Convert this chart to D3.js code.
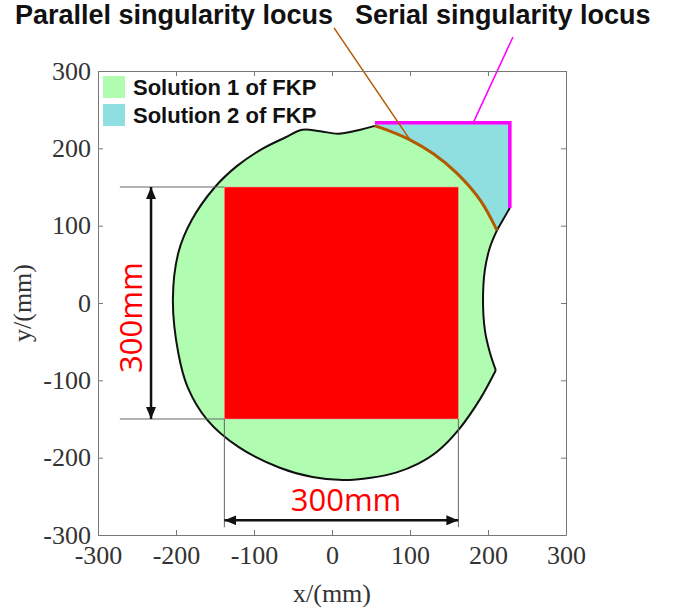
<!DOCTYPE html>
<html><head><meta charset="utf-8">
<script src="https://cdn.jsdelivr.net/npm/d3@7"></script>
<style>body{margin:0;background:#fff}</style>
</head><body>
<svg id="chart" width="676" height="609"></svg>
<script>
// ---- data ----
const xTicks = [-300,-200,-100,0,100,200,300];
const yTicks = [-300,-200,-100,0,100,200,300];
// outer boundary of Solution 1 region (black), counter-clockwise from top junction
const outerX = [55,32,8,-15,-38,-60,-90,-122,-150,-180,-197,-204,-197,-185,-160,-120,-67,-25,14,50,83,110,135,163,190,210];
const outerY = [229,223,219,222,224,214,199,177,150,107,65,4,-65,-109,-151,-186,-213,-225,-229,-226,-219,-208,-192,-163,-124,-87];
// concave bite on the right side (black), from corner up to serial locus
const biteX = [210,202.6,196,193.6,196,202.6,211.5,228];
const biteY = [-87,-64.7,-35,3.9,42.7,72.4,94,123];
// parallel singularity locus (brown arc)
const parX = [211.5,190,160,130,100,75,55];
const parY = [94,133,168,193,211,222,229];
// serial singularity locus (magenta)
const serX = [55,228,228];
const serY = [233,233,123];
// workspace square
const sqX = [-138,162];
const sqY = [-150,150];
// dimension annotations
const dimLabel = "300mm";
const leaderPar = {x:[2.6,100], y:[355.8,211]};
const leaderSer = {x:[232,181], y:[344,233]};
const legendLabels = ["Solution 1 of FKP","Solution 2 of FKP"];
const colors = {s1:"#b0fcb0", s2:"#8fdfe0", par:"#b35a00", ser:"#ff00ff", sq:"#ff0000"};

// ---- scales ----
const svg = d3.select("#chart");
const x = d3.scaleLinear().domain([-300,300]).range([98,566]);
const y = d3.scaleLinear().domain([-300,300]).range([535,71]);
const pts = (xs,ys)=>xs.map((v,i)=>[x(v),y(ys[i])]);
const line = d3.line();
const smooth = d3.line().curve(d3.curveCatmullRom.alpha(0.5));
const cont = s => s.replace(/^M/,"L");

// ---- regions ----
const outerP = pts(outerX,outerY);
const biteP = pts(biteX,biteY);
const parP = pts(parX,parY);
// Solution 1 (green)
svg.append("path").attr("d", smooth(outerP) + cont(smooth(biteP.slice(0,7))) + cont(smooth(parP)) + "Z")
  .attr("fill", colors.s1);
// Solution 2 (cyan)
svg.append("path").attr("d", line(pts(serX,serY).concat([[x(211.5),y(94)]])) + cont(smooth(parP)) + "Z")
  .attr("fill", colors.s2);

// square
svg.append("rect").attr("x", x(sqX[0])).attr("y", y(sqY[1]))
  .attr("width", x(sqX[1])-x(sqX[0])).attr("height", y(sqY[0])-y(sqY[1]))
  .attr("fill", colors.sq).attr("stroke","#e99").attr("stroke-width",0.6);

// boundaries
svg.append("path").attr("d", smooth(outerP)).attr("fill","none").attr("stroke","#111").attr("stroke-width",2);
svg.append("path").attr("d", smooth(biteP.slice(0,7)) + "L" + biteP[7].join(",")).attr("fill","none").attr("stroke","#111").attr("stroke-width",2);
svg.append("path").attr("d", smooth(parP)).attr("fill","none").attr("stroke",colors.par).attr("stroke-width",3);
svg.append("path").attr("d", line(pts(serX,serY))).attr("fill","none").attr("stroke",colors.ser).attr("stroke-width",3.5).attr("stroke-linejoin","miter");

// leaders
svg.append("path").attr("d", line(pts(leaderPar.x,leaderPar.y))).attr("stroke",colors.par).attr("stroke-width",1.5).attr("fill","none");
svg.append("path").attr("d", line(pts(leaderSer.x,leaderSer.y))).attr("stroke",colors.ser).attr("stroke-width",1.5).attr("fill","none");

// ---- axes ----
const fmt = d => String(d);
function styleAxis(g){
  g.select(".domain").attr("stroke","#777");
  g.selectAll(".tick line").attr("stroke","#777");
  g.selectAll(".tick text").attr("fill","#333").attr("font-size",26).attr("font-family","'Liberation Serif','Times New Roman',serif");
}
svg.append("g").attr("transform",`translate(0,${y(-300)})`)
  .call(d3.axisBottom(x).tickValues(xTicks).tickSize(-5).tickSizeOuter(0).tickPadding(11).tickFormat(fmt)).call(styleAxis);
svg.append("g").attr("transform",`translate(0,${y(300)})`)
  .call(d3.axisTop(x).tickValues(xTicks).tickSize(-5).tickSizeOuter(0).tickFormat("")).call(styleAxis);
svg.append("g").attr("transform",`translate(${x(-300)},0)`)
  .call(d3.axisLeft(y).tickValues(yTicks).tickSize(-5).tickSizeOuter(0).tickPadding(7).tickFormat(fmt)).call(styleAxis);
svg.append("g").attr("transform",`translate(${x(300)},0)`)
  .call(d3.axisRight(y).tickValues(yTicks).tickSize(-5).tickSizeOuter(0).tickFormat("")).call(styleAxis);

svg.append("text").attr("x", x(0)).attr("y", 602).attr("text-anchor","middle")
  .attr("font-family","'Liberation Serif',serif").attr("font-size",26).attr("fill","#333").text("x/(mm)");
svg.append("text").attr("transform",`translate(31,${y(0)}) rotate(-90)`).attr("text-anchor","middle")
  .attr("font-family","'Liberation Serif',serif").attr("font-size",26).attr("fill","#333").text("y/(mm)");

// ---- dimension annotations ----
const defs = svg.append("defs");
["s","e"].forEach(k=>{
  defs.append("marker").attr("id","arr"+k).attr("viewBox","0 0 12 10").attr("refX", k==="e"?12:0).attr("refY",5)
   .attr("markerWidth",12).attr("markerHeight",10).attr("markerUnits","userSpaceOnUse").attr("orient","auto")
   .append("path").attr("d", k==="e"?"M0,0L12,5L0,10Z":"M12,0L0,5L12,10Z").attr("fill","#111");
});
const gray = "#666";
[sqY[1],sqY[0]].forEach(v=>{
  svg.append("line").attr("x1",x(-272)).attr("x2",x(sqX[0])).attr("y1",y(v)).attr("y2",y(v)).attr("stroke",gray).attr("stroke-width",1);
});
sqX.forEach(v=>{
  svg.append("line").attr("x1",x(v)).attr("x2",x(v)).attr("y1",y(sqY[0])).attr("y2",y(-290)).attr("stroke",gray).attr("stroke-width",1);
});
svg.append("line").attr("x1",x(-232)).attr("x2",x(-232)).attr("y1",y(sqY[1])).attr("y2",y(sqY[0]))
  .attr("stroke","#111").attr("stroke-width",2.5).attr("marker-start","url(#arrs)").attr("marker-end","url(#arre)");
svg.append("line").attr("x1",x(sqX[0])).attr("x2",x(sqX[1])).attr("y1",y(-281)).attr("y2",y(-281))
  .attr("stroke","#111").attr("stroke-width",2.5).attr("marker-start","url(#arrs)").attr("marker-end","url(#arre)");
svg.append("text").attr("transform",`translate(${x(-259)},${y(-19)}) rotate(-90)`).attr("text-anchor","middle").attr("dominant-baseline","central")
  .attr("font-family","'Open Sans',sans-serif").attr("font-size",31).attr("fill","#ff0000").text(dimLabel);
svg.append("text").attr("x",x(18)).attr("y",y(-254)).attr("text-anchor","middle").attr("dominant-baseline","central")
  .attr("font-family","'Open Sans',sans-serif").attr("font-size",31).attr("fill","#ff0000").text(dimLabel);

// ---- legend ----
const lg = svg.append("g");
[colors.s1, colors.s2].forEach((c,i)=>{
  lg.append("rect").attr("x",103).attr("y",76+i*28).attr("width",22).attr("height",22).attr("fill",c);
  lg.append("text").attr("x",133).attr("y",87+i*28).attr("dominant-baseline","central")
    .attr("font-family","'Liberation Sans',Arial,sans-serif").attr("font-weight","bold").attr("font-size",22).attr("fill","#111").text(legendLabels[i]);
});

// ---- top labels ----
svg.append("text").attr("x",15).attr("y",24).attr("font-family","'Liberation Sans',Arial,sans-serif").attr("font-weight","bold")
  .attr("font-size",27).attr("fill","#111").text("Parallel singularity locus");
svg.append("text").attr("x",355).attr("y",24).attr("font-family","'Liberation Sans',Arial,sans-serif").attr("font-weight","bold")
  .attr("font-size",27).attr("fill","#111").text("Serial singularity locus");
</script>
</body></html>
